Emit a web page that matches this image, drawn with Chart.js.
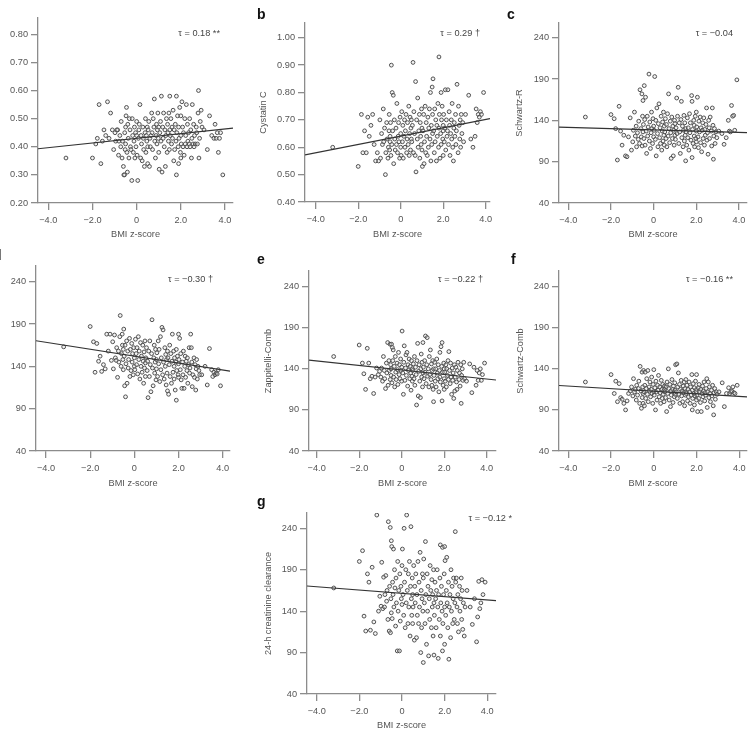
<!DOCTYPE html>
<html>
<head>
<meta charset="utf-8">
<script src="https://cdn.jsdelivr.net/npm/chart.js@4.4.1/dist/chart.umd.min.js"></script>
<style>
  html, body { margin: 0; padding: 0; background: #fff; width: 750px; height: 729px; overflow: hidden; }
  canvas { position: absolute; }
  .tag { position: absolute; font: bold 14px "Liberation Sans", Arial, sans-serif; line-height: 14px; color: #111; }
  .tau { position: absolute; width: 90px; text-align: right; font: 9.2px "Liberation Sans", Arial, sans-serif; line-height: 11px; color: #444; white-space: nowrap; }
</style>
</head>
<body>
<script>
// BMI z-score of each child (shared x values, same order in every panel)
const bmiZ = [
  -3.2, -2.0, -1.85, -1.78, -1.7, -1.62, -1.55, -1.48, -1.4, -1.32, -1.25, -1.18, -1.1, -1.04,
  -0.98, -0.95, -0.9, -0.86, -0.82, -0.8, -0.76, -0.72, -0.7, -0.66, -0.64, -0.6, -0.58, -0.55, -0.54, -0.52, -0.5, -0.5,
  -0.48, -0.46, -0.44, -0.42, -0.4, -0.38, -0.35, -0.33, -0.3, -0.28, -0.26, -0.22, -0.2, -0.18, -0.15, -0.12, -0.1, -0.08, -0.05, -0.03, 0, 0,
  0.02, 0.05, 0.08, 0.1, 0.12, 0.15, 0.18, 0.2, 0.22, 0.25, 0.28, 0.3, 0.32, 0.35, 0.38, 0.4, 0.42, 0.44, 0.46, 0.48, 0.5, 0.5,
  0.52, 0.55, 0.58, 0.6, 0.62, 0.65, 0.68, 0.7, 0.72, 0.75, 0.78, 0.8, 0.82, 0.85, 0.88, 0.9, 0.92, 0.94, 0.96, 0.98, 1.0, 1.0,
  1.02, 1.05, 1.08, 1.1, 1.12, 1.15, 1.18, 1.2, 1.22, 1.25, 1.28, 1.3, 1.32, 1.35, 1.38, 1.4, 1.42, 1.44, 1.46, 1.48, 1.5, 1.5,
  1.52, 1.55, 1.58, 1.6, 1.62, 1.65, 1.68, 1.7, 1.72, 1.75, 1.78, 1.8, 1.8, 1.82, 1.85, 1.88, 1.9, 1.9, 1.92, 1.95, 1.98, 2.0, 2.0, 2.0,
  2.02, 2.05, 2.08, 2.1, 2.12, 2.15, 2.18, 2.2, 2.22, 2.25, 2.28, 2.3, 2.32, 2.35, 2.38, 2.4, 2.42, 2.45, 2.48, 2.5,
  2.52, 2.55, 2.58, 2.6, 2.62, 2.65, 2.7, 2.72, 2.75, 2.78, 2.8, 2.82, 2.85, 2.88, 2.92, 2.96,
  3.05, 3.2, 3.3, 3.4, 3.5, 3.55, 3.6, 3.65, 3.7, 3.75, 3.8, 3.9
];

// panel a
const creatinine = [
  0.36, 0.36, 0.41, 0.43, 0.55, 0.34, 0.42, 0.46, 0.44, 0.56, 0.43, 0.52, 0.46, 0.39,
  0.45, 0.42, 0.46, 0.46, 0.37, 0.42, 0.44, 0.40, 0.49, 0.36, 0.42, 0.33, 0.30, 0.30, 0.45, 0.39, 0.41, 0.47,
  0.51, 0.54, 0.38, 0.31, 0.48, 0.43, 0.36, 0.50, 0.46, 0.40, 0.39, 0.28, 0.50, 0.44, 0.38, 0.42, 0.47, 0.36, 0.45, 0.40, 0.49, 0.44,
  0.37, 0.28, 0.43, 0.46, 0.48, 0.55, 0.36, 0.44, 0.41, 0.35, 0.47, 0.43, 0.39, 0.33, 0.45, 0.50, 0.38, 0.44, 0.42, 0.47, 0.34, 0.40,
  0.46, 0.49, 0.33, 0.43, 0.40, 0.44, 0.52, 0.45, 0.39, 0.50, 0.47, 0.57, 0.42, 0.36, 0.44, 0.48, 0.41, 0.46, 0.52, 0.43, 0.38, 0.47,
  0.32, 0.45, 0.49, 0.42, 0.58, 0.31, 0.47, 0.43, 0.52, 0.40, 0.46, 0.33, 0.44, 0.50, 0.38, 0.48, 0.45, 0.42, 0.52, 0.39, 0.58, 0.46,
  0.44, 0.50, 0.41, 0.47, 0.43, 0.53, 0.35, 0.46, 0.39, 0.48, 0.42, 0.58, 0.30, 0.45, 0.51, 0.40, 0.34, 0.47, 0.43, 0.54, 0.38, 0.44, 0.51, 0.36,
  0.41, 0.56, 0.47, 0.40, 0.45, 0.37, 0.50, 0.41, 0.44, 0.55, 0.40, 0.48, 0.42, 0.45, 0.41, 0.50, 0.40, 0.46, 0.36, 0.43,
  0.55, 0.41, 0.48, 0.40, 0.44, 0.41, 0.47, 0.45, 0.41, 0.52, 0.60, 0.36, 0.43, 0.49, 0.53, 0.47,
  0.46, 0.39, 0.51, 0.44, 0.43, 0.48, 0.43, 0.45, 0.38, 0.43, 0.45, 0.30
];

// panel b
const cystatinC = [
  0.60, 0.53, 0.72, 0.58, 0.66, 0.58, 0.71, 0.64, 0.68, 0.72, 0.61, 0.55, 0.58, 0.55,
  0.70, 0.56, 0.65, 0.61, 0.74, 0.62, 0.67, 0.50, 0.58, 0.69, 0.63, 0.56, 0.60, 0.66, 0.72, 0.59, 0.64, 0.62,
  0.69, 0.57, 0.90, 0.61, 0.80, 0.66, 0.79, 0.54, 0.70, 0.63, 0.59, 0.67, 0.61, 0.76, 0.58, 0.64, 0.69, 0.62, 0.56, 0.71, 0.65, 0.60,
  0.57, 0.73, 0.62, 0.68, 0.56, 0.64, 0.70, 0.60, 0.66, 0.72, 0.58, 0.63, 0.69, 0.61, 0.75, 0.57, 0.65, 0.71, 0.59, 0.67, 0.63, 0.70,
  0.62, 0.68, 0.91, 0.58, 0.73, 0.65, 0.57, 0.84, 0.51, 0.70, 0.63, 0.78, 0.60, 0.66, 0.72, 0.56, 0.69, 0.64, 0.61, 0.74, 0.67, 0.59,
  0.53, 0.66, 0.72, 0.54, 0.62, 0.75, 0.58, 0.69, 0.64, 0.57, 0.71, 0.60, 0.67, 0.74, 0.63, 0.80, 0.55, 0.68, 0.61, 0.82, 0.65, 0.72,
  0.85, 0.66, 0.58, 0.74, 0.62, 0.70, 0.55, 0.68, 0.64, 0.76, 0.60, 0.93, 0.67, 0.72, 0.56, 0.65, 0.80, 0.61, 0.70, 0.75, 0.63, 0.68, 0.57, 0.66,
  0.72, 0.62, 0.67, 0.81, 0.59, 0.70, 0.64, 0.66, 0.81, 0.61, 0.73, 0.68, 0.57, 0.65, 0.70, 0.63, 0.76, 0.60, 0.55, 0.67,
  0.69, 0.64, 0.72, 0.61, 0.66, 0.83, 0.58, 0.75, 0.68, 0.63, 0.70, 0.60, 0.72, 0.65, 0.69, 0.62,
  0.72, 0.79, 0.63, 0.60, 0.64, 0.74, 0.69, 0.72, 0.71, 0.73, 0.72, 0.80
];

// panel c
const schwartzR = [
  144, 147, 142, 130, 92, 157, 127, 110, 122, 97, 96, 120, 143, 104,
  114, 128, 150, 121, 133, 108, 125, 117, 139, 112, 177, 130, 120, 172, 109, 145, 164, 126,
  135, 118, 182, 141, 110, 168, 127, 100, 145, 121, 132, 196, 115, 138, 106, 125, 150, 130, 112, 142, 120, 133,
  128, 193, 117, 140, 97, 155, 124, 108, 136, 160, 119, 131, 112, 145, 104, 127, 138, 115, 150, 122, 133, 110,
  126, 142, 118, 135, 108, 148, 121, 172, 130, 113, 139, 125, 94, 144, 118, 133, 97, 128, 110, 140, 122, 136,
  117, 131, 167, 124, 145, 180, 112, 137, 126, 100, 141, 163, 119, 133, 108, 128, 146, 115, 137, 122, 91, 130,
  126, 110, 143, 119, 131, 104, 148, 125, 137, 116, 170, 95, 163, 129, 112, 140, 121, 134, 108, 145, 118, 127, 150, 114,
  132, 168, 120, 107, 139, 126, 144, 113, 131, 102, 128, 137, 118, 143, 110, 129, 122, 135, 155, 116,
  125, 99, 140, 131, 118, 144, 127, 109, 155, 134, 93, 121, 130, 112, 126, 119,
  127, 124, 111, 119, 140, 127, 126, 158, 145, 146, 128, 189
];

// panel d (axis title outside the frame)
const panelD = [
  163, 187, 169, 133, 167, 146, 152, 134, 142, 137, 178, 158, 178, 147,
  169, 137, 177, 150, 147, 162, 127, 158, 145, 175, 200, 140, 155, 178, 165, 148, 136, 160,
  184, 152, 117, 165, 104, 143, 170, 120, 158, 138, 148, 173, 128, 160, 135, 167, 145, 155, 130, 162, 150, 140,
  136, 172, 155, 142, 162, 131, 175, 148, 158, 125, 168, 140, 152, 133, 165, 146, 120, 157, 138, 170, 144, 128,
  150, 162, 135, 146, 103, 158, 128, 170, 142, 110, 155, 195, 138, 117, 150, 165, 132, 145, 160, 124, 148, 137,
  156, 128, 170, 143, 160, 122, 175, 136, 150, 186, 130, 183, 145, 125, 162, 140, 154, 118, 148, 132, 111, 158,
  150, 107, 142, 165, 128, 155, 120, 146, 178, 133, 158, 140, 125, 150, 112, 145, 160, 100, 135, 152, 130, 178, 143, 127,
  148, 173, 136, 155, 124, 114, 145, 130, 158, 114, 140, 152, 127, 146, 135, 150, 120, 142, 162, 132,
  138, 178, 162, 145, 116, 130, 150, 127, 142, 112, 137, 148, 125, 140, 135, 130,
  130, 140, 118, 161, 136, 128, 133, 130, 132, 131, 136, 117
];

// panel e
const zappitelliComb = [
  155, 169, 147, 134, 115, 165, 147, 128, 131, 110, 130, 141, 133, 137,
  130, 141, 125, 155, 138, 128, 116, 147, 135, 172, 120, 150, 138, 170, 127, 145, 132, 140,
  170, 123, 166, 150, 163, 130, 143, 118, 155, 136, 127, 147, 139, 121, 160, 133, 145, 128, 152, 138, 142, 125,
  186, 135, 109, 148, 168, 126, 141, 157, 132, 160, 119, 145, 138, 152, 128, 143, 135, 114, 150, 131, 140, 125,
  138, 146, 128, 155, 120, 142, 133, 96, 150, 171, 107, 137, 145, 125, 105, 140, 158, 130, 148, 118, 172, 135,
  142, 128, 150, 136, 180, 122, 145, 178, 131, 140, 118, 155, 133, 163, 127, 146, 120, 138, 150, 115, 100, 140,
  132, 148, 125, 140, 118, 152, 135, 128, 145, 112, 138, 130, 160, 124, 167, 143, 172, 101, 136, 120, 147, 128, 140, 115,
  136, 125, 145, 118, 140, 132, 150, 127, 161, 138, 122, 147, 130, 109, 141, 126, 135, 104, 145, 113,
  130, 142, 124, 115, 138, 148, 127, 135, 119, 145, 98, 132, 140, 126, 148, 128,
  125, 146, 111, 142, 120, 138, 126, 135, 140, 126, 133, 147
];

// panel f
const schwartzComb = [
  124, 133, 110, 125, 100, 122, 105, 103, 98, 90, 101, 110, 113, 118,
  107, 128, 112, 115, 102, 120, 108, 116, 125, 98, 143, 113, 92, 136, 105, 118, 98, 110,
  138, 112, 95, 120, 136, 104, 116, 128, 109, 138, 100, 118, 113, 124, 106, 115, 130, 110, 98, 121, 112, 139,
  108, 117, 90, 125, 112, 102, 120, 114, 132, 106, 118, 111, 98, 126, 115, 104, 121, 109, 113, 100, 119, 115,
  112, 105, 118, 88, 124, 110, 140, 116, 102, 121, 94, 113, 108, 127, 115, 99, 119, 111, 106, 123, 114, 109,
  145, 112, 146, 104, 118, 135, 109, 121, 98, 115, 126, 107, 113, 100, 119, 111, 124, 95, 116, 108, 127, 112,
  110, 120, 101, 115, 106, 124, 112, 98, 118, 108, 133, 90, 114, 104, 122, 110, 96, 117, 107, 125, 112, 102, 133, 115,
  108, 88, 117, 104, 121, 112, 99, 115, 88, 110, 119, 106, 113, 124, 101, 111, 108, 116, 128, 93,
  112, 124, 105, 118, 110, 100, 114, 107, 120, 95, 84, 111, 116, 103, 112, 109,
  112, 123, 94, 110, 117, 110, 112, 113, 118, 111, 110, 120
];

// panel g
const crClearance24h = [
  168, 200, 213, 134, 116, 185, 175, 117, 193, 127, 113, 256, 140, 158,
  146, 199, 143, 181, 145, 160, 183, 152, 165, 130, 248, 116, 170, 241, 114, 155, 225, 138,
  218, 131, 175, 160, 215, 145, 190, 168, 122, 180, 150, 92, 200, 140, 165, 92, 185, 128, 170, 155, 195, 148,
  215, 160, 135, 240, 175, 120, 190, 150, 256, 165, 125, 185, 145, 200, 110, 170, 242, 155, 135, 180, 160, 125,
  145, 195, 105, 170, 150, 185, 108, 160, 135, 200, 125, 175, 145, 211, 90, 165, 120, 155, 185, 140, 78, 180,
  203, 150, 125, 224, 160, 100, 185, 140, 170, 86, 155, 130, 195, 165, 120, 178, 145, 160, 110, 190, 87, 150,
  135, 175, 155, 120, 165, 190, 145, 83, 160, 130, 180, 220, 110, 150, 170, 140, 217, 92, 125, 160, 185, 218, 145, 100,
  201, 135, 165, 205, 150, 120, 175, 82, 145, 160, 108, 190, 140, 170, 125, 155, 180, 130, 150, 236,
  175, 180, 145, 125, 160, 115, 170, 140, 155, 180, 130, 165, 118, 150, 110, 145,
  165, 145, 124, 155, 103, 133, 176, 143, 150, 178, 160, 175
];

// regression line, value at the left and right end of the x axis
const fitA = [0.393, 0.466];
const fitB = [0.572, 0.705];
const fitC = [131.7, 125.2];
const fitD = [170.2, 134.3];
const fitE = [150.7, 126.4];
const fitF = [119.7, 105.9];
const fitG = [170.4, 152.7];

// ticks
const xTicks = [-4, -2, 0, 2, 4];
const xTickLabels = ['\u22124.0', '\u22122.0', '0', '2.0', '4.0'];
const yTicksA = [0.2, 0.3, 0.4, 0.5, 0.6, 0.7, 0.8];
const yTickLabelsA = ['0.20', '0.30', '0.40', '0.50', '0.60', '0.70', '0.80'];
const yTicksB = [0.4, 0.5, 0.6, 0.7, 0.8, 0.9, 1.0];
const yTickLabelsB = ['0.40', '0.50', '0.60', '0.70', '0.80', '0.90', '1.00'];
const yTicksGfr = [40, 90, 140, 190, 240];
const yTickLabelsGfr = ['40', '90', '140', '190', '240'];

const tauLabels = ['\u03c4 = 0.18 **', '\u03c4 = 0.29 \u2020', '\u03c4 = \u22120.04', '\u03c4 = \u22120.30 \u2020', '\u03c4 = \u22120.22 \u2020', '\u03c4 = \u22120.16 **', '\u03c4 = \u22120.12 *'];
const yTitles = ['', 'Cystatin C', 'Schwartz-R', '', 'Zappitelli-Comb', 'Schwartz-Comb', '24-h creatinine clearance'];

// layout: plot box in page pixels, axis ranges, label placement
const panels = [
  { tag: '',  y: creatinine,     fit: fitA, yt: yTicksA,   yl: yTickLabelsA,   box: [38, 18, 233, 203],   xr: [-4.466, 4.362], yr: [0.2, 0.858], tau: [220, 33],    yOff: 40,   xOff: 31.3 },
  { tag: 'b', y: cystatinC,      fit: fitB, yt: yTicksB,   yl: yTickLabelsB,   box: [305, 23, 490, 202],  xr: [-4.504, 4.202], yr: [0.4, 1.054], tau: [480, 33.3],  yOff: 41.5, xOff: 32.3 },
  { tag: 'c', y: schwartzR,      fit: fitC, yt: yTicksGfr, yl: yTickLabelsGfr, box: [559, 23, 747, 203],  xr: [-4.436, 4.375], yr: [40, 257.8],  tau: [733, 33],    yOff: 39.5, xOff: 31.6 },
  { tag: 'd', y: panelD,         fit: fitD, yt: yTicksGfr, yl: yTickLabelsGfr, box: [36, 266, 230, 451],  xr: [-4.453, 4.330], yr: [40, 258.5],  tau: [213, 279],   yOff: 40,   xOff: 32.6 },
  { tag: 'e', y: zappitelliComb, fit: fitE, yt: yTicksGfr, yl: yTickLabelsGfr, box: [309, 271, 496, 451], xr: [-4.362, 4.438], yr: [40, 259.1],  tau: [483, 279.3], yOff: 40.8, xOff: 32.3 },
  { tag: 'f', y: schwartzComb,   fit: fitF, yt: yTicksGfr, yl: yTickLabelsGfr, box: [559, 271, 747, 451], xr: [-4.435, 4.360], yr: [40, 259.1],  tau: [733, 279.3], yOff: 38.7, xOff: 32.6 },
  { tag: 'g', y: crClearance24h, fit: fitG, yt: yTicksGfr, yl: yTickLabelsGfr, box: [307, 513, 496, 694], xr: [-4.455, 4.410], yr: [40, 258.5],  tau: [512, 518],   yOff: 38.8, xOff: 31 }
];
const tagPos = { b: [257, 6.5], c: [507, 6.5], d: [-7, 247.5], e: [257, 252], f: [511, 252], g: [257, 494] };

const FONT = { family: '"Liberation Sans", Arial, sans-serif', size: 9.2 };
const AXIS = '#8c8c8c';
const TEXT = '#555';
const AW = 50, AH = 40; // fixed axis box sizes

panels.forEach((p, i) => {
  const [L, T, R, B] = p.box;
  const canvas = document.createElement('canvas');
  const cw = (R - L) + 55 + 14, ch = (B - T) + 10 + 42;
  canvas.width = cw; canvas.height = ch;
  canvas.style.left = (L - 55) + 'px';
  canvas.style.top = (T - 10) + 'px';
  canvas.style.width = cw + 'px';
  canvas.style.height = ch + 'px';
  document.body.appendChild(canvas);

  const points = bmiZ.map((x, k) => ({ x: x, y: p.y[k] })).filter((d) => d.y !== undefined);

  new Chart(canvas, {
    type: 'scatter',
    data: {
      datasets: [
        {
          type: 'line',
          data: [{ x: p.xr[0], y: p.fit[0] }, { x: p.xr[1], y: p.fit[1] }],
          borderColor: '#333',
          borderWidth: 1.2,
          pointRadius: 0,
          fill: false,
        },
        {
          data: points,
          pointRadius: 1.9,
          pointBorderWidth: 1,
          pointBorderColor: '#505050',
          pointBackgroundColor: 'rgba(220,220,220,0.35)',
        },
      ],
    },
    options: {
      responsive: false,
      animation: false,
      events: [],
      layout: { padding: { left: 55 - AW, top: 10, right: 14, bottom: 42 - AH } },
      plugins: { legend: { display: false }, tooltip: { enabled: false } },
      scales: {
        x: {
          type: 'linear', position: 'bottom', min: p.xr[0], max: p.xr[1],
          afterBuildTicks: (s) => { s.ticks = xTicks.map((v) => ({ value: v })); },
          afterFit: (s) => { s.height = AH; },
          border: { display: true, color: AXIS, width: 1.3 },
          grid: { drawOnChartArea: false, drawTicks: true, tickLength: 7, color: AXIS, lineWidth: 1.3 },
          ticks: { font: FONT, color: TEXT, padding: 5, maxRotation: 0, autoSkip: false,
                   callback: (v) => xTickLabels[xTicks.indexOf(v)] },
          title: { display: true, text: 'BMI z-score', font: FONT, color: TEXT,
                   padding: { top: 0, bottom: AH - 5.5 - p.xOff } },
        },
        y: {
          type: 'linear', position: 'left', min: p.yr[0], max: p.yr[1],
          afterBuildTicks: (s) => { s.ticks = p.yt.map((v) => ({ value: v })); },
          afterFit: (s) => { s.width = AW; },
          border: { display: true, color: AXIS, width: 1.3 },
          grid: { drawOnChartArea: false, drawTicks: true, tickLength: 7, color: AXIS, lineWidth: 1.3 },
          ticks: { font: FONT, color: TEXT, padding: 3, autoSkip: false,
                   callback: (v) => p.yl[p.yt.indexOf(v)] },
          title: { display: yTitles[i] !== '', text: yTitles[i], font: FONT, color: TEXT,
                   padding: { top: AW - 5.5 - p.yOff, bottom: 0 } },
        },
      },
    },
  });

  const t = document.createElement('div');
  t.className = 'tau';
  t.textContent = tauLabels[i];
  t.style.left = (p.tau[0] - 90) + 'px';
  t.style.top = (p.tau[1] - 5.5) + 'px';
  document.body.appendChild(t);

  if (p.tag) {
    const g = document.createElement('div');
    g.className = 'tag';
    g.textContent = p.tag;
    g.style.left = tagPos[p.tag][0] + 'px';
    g.style.top = tagPos[p.tag][1] + 'px';
    document.body.appendChild(g);
  }
});
</script>
</body>
</html>
